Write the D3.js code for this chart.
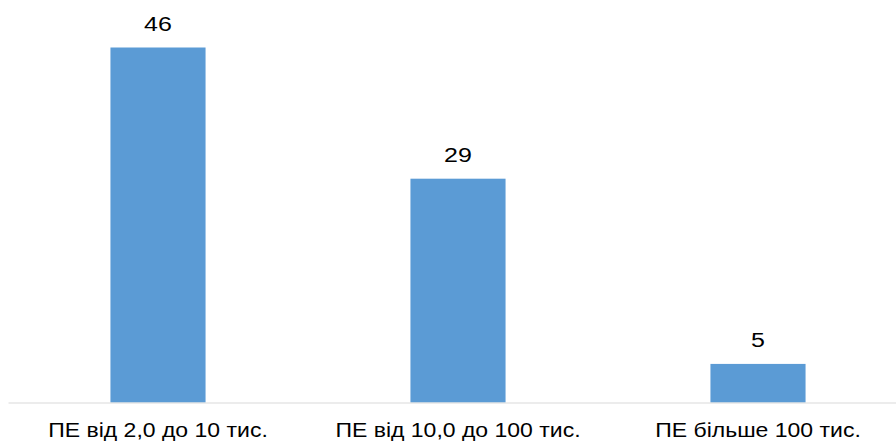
<!DOCTYPE html>
<html>
<head>
<meta charset="utf-8">
<script src="https://cdn.jsdelivr.net/npm/d3@7"></script>
<style>
  body { margin: 0; background: #fff; }
  svg { display: block; }
</style>
</head>
<body>
<div id="chart"></div>
<script>
var categories = ["ПЕ від 2,0 до 10 тис.", "ПЕ від 10,0 до 100 тис.", "ПЕ більше 100 тис."];
var values = [46, 29, 5];

var width = 896,
    height = 441,
    baseY = 402.5;

var svg = d3.select("#chart").append("svg")
    .attr("width", width)
    .attr("height", height);

var x = d3.scaleBand()
    .domain(categories)
    .range([8, 908])
    .paddingInner(0.683)
    .paddingOuter(0.3415);

// 46 -> ~355px tall
var y = d3.scaleLinear()
    .domain([0, 46])
    .range([baseY, 47.5]);

svg.selectAll(".bar")
    .data(values)
    .enter()
    .append("rect")
    .attr("class", "bar")
    .attr("x", function(d, i) { return x(categories[i]); })
    .attr("y", function(d) { return y(d); })
    .attr("width", x.bandwidth())
    .attr("height", function(d) { return baseY - y(d); })
    .attr("fill", "#5b9bd5");

// value labels (text in the original is drawn a bit wide)
svg.selectAll(".val")
    .data(values)
    .enter()
    .append("g")
    .attr("class", "val")
    .attr("transform", function(d, i) {
        return "translate(" + (x(categories[i]) + x.bandwidth() / 2) + "," + (y(d) - 16.5) + ")";
    })
    .append("text")
    .attr("transform", "scale(1.25,1)")
    .attr("text-anchor", "middle")
    .style("font-family", "Liberation Sans, Arial, sans-serif")
    .style("font-size", "20px")
    .style("fill", "#000")
    .text(function(d) { return d; });

// x axis
var xAxis = d3.axisBottom(x).tickSize(0).tickPadding(20);
var gx = svg.append("g")
    .attr("transform", "translate(0," + baseY + ")")
    .call(xAxis);
gx.select(".domain").attr("stroke", "#d9d9d9").attr("stroke-width", 1);
gx.selectAll("text")
    .attr("transform", "scale(1.15,1)")
    .style("font-family", "Liberation Sans, Arial, sans-serif")
    .style("font-size", "20px")
    .style("fill", "#000");
</script>
</body>
</html>
